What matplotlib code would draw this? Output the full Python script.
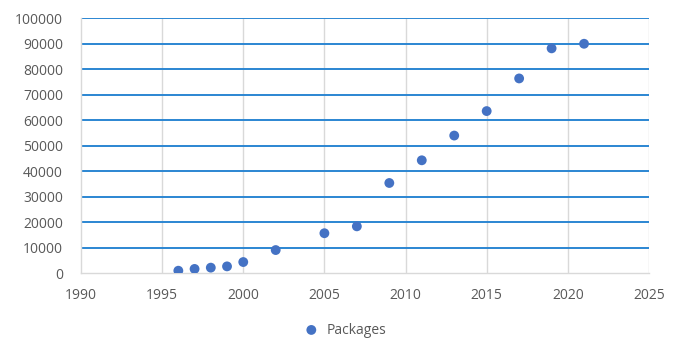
import matplotlib
matplotlib.use("Agg")
import matplotlib.pyplot as plt

years = [1996, 1997, 1998, 1999, 2000, 2002, 2005, 2007, 2009, 2011, 2013, 2015, 2017, 2019, 2021]
packages = [900, 1600, 2100, 2600, 4300, 9000, 15600, 18300, 35300, 44200, 53900, 63500, 76300, 88100, 89900]
xticks = [1990, 1995, 2000, 2005, 2010, 2015, 2020, 2025]
yticks = list(range(0, 100001, 10000))

plt.rcParams['font.family'] = ['Open Sans', 'DejaVu Sans']
fig = plt.figure(figsize=(6.77, 3.41), dpi=100)
ax = fig.add_axes([0.1196, 0.1994, 0.8390, 0.7478])
ax.set_xlim(1990, 2025)
ax.set_ylim(0, 100000)
ax.set_xticks(xticks)
ax.set_yticks(yticks)
ax.set_xticklabels([str(t) for t in xticks])
ax.set_yticklabels([str(t) for t in yticks])

for y in yticks[1:]:
    ax.axhline(y, color='#2B86D2', lw=1.4, zorder=1)
for x in xticks[1:]:
    ax.axvline(x, color='#D9D9D9', lw=1.0, zorder=0.5)

ax.scatter(years, packages, s=50, color='#4472C4', zorder=3, label='Packages', edgecolors='none')

for s in ['top', 'right']:
    ax.spines[s].set_visible(False)
for s in ['left', 'bottom']:
    ax.spines[s].set_color('#D9D9D9')
    ax.spines[s].set_linewidth(1.0)
ax.tick_params(length=0, colors='#595959', labelsize=10)
ax.tick_params(axis='x', pad=11)
ax.tick_params(axis='y', pad=13)

leg = fig.legend(loc='center', bbox_to_anchor=(0.505, 0.032), frameon=False,
                 fontsize=10, handletextpad=0.1, scatterpoints=1)
for t in leg.get_texts():
    t.set_color('#595959')

fig.savefig('out.png', dpi=100)
